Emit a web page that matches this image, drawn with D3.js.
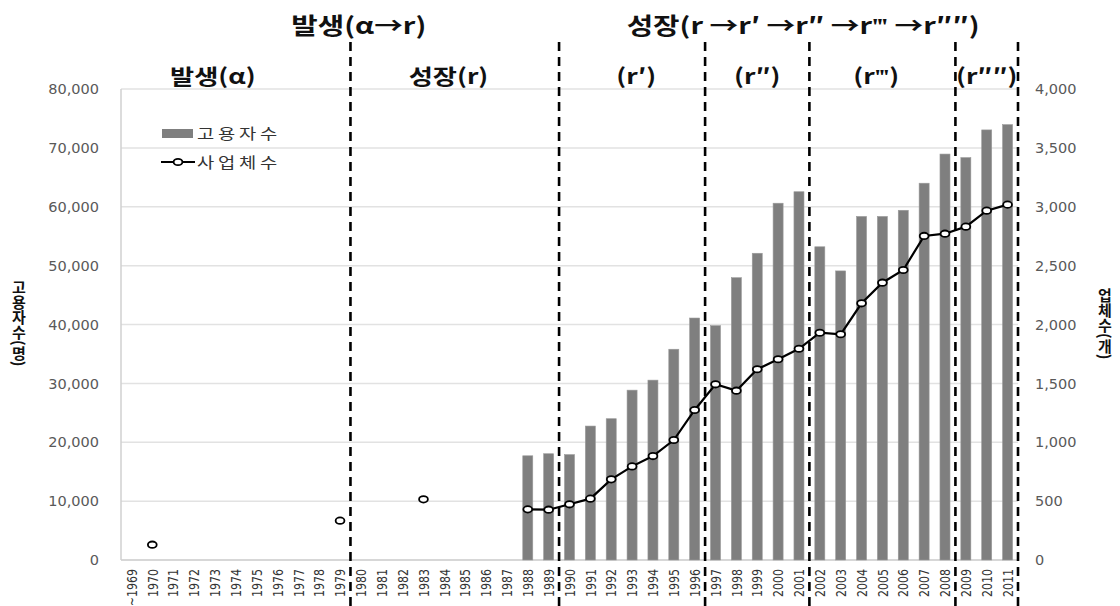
<!DOCTYPE html>
<html><head><meta charset="utf-8">
<script src="https://cdn.jsdelivr.net/npm/d3@7"></script>
<style>body{margin:0;background:#fff}svg{display:block}</style>
</head><body>
<svg id="c" width="1120" height="606"></svg>
<script>
const years=["~1969","1970","1971","1972","1973","1974","1975","1976","1977","1978","1979","1980","1981","1982","1983","1984","1985","1986","1987","1988","1989","1990","1991","1992","1993","1994","1995","1996","1997","1998","1999","2000","2001","2002","2003","2004","2005","2006","2007","2008","2009","2010","2011"];
const employees=[null,null,null,null,null,null,null,null,null,null,null,null,null,null,null,null,null,null,null,
  17700,18050,17900,22750,24000,28850,30550,35800,41100,39800,47950,52100,60600,62550,53200,49100,58350,58350,59400,64000,68950,68350,73050,73950];
const firms=[null,130,null,null,null,null,null,null,null,null,334,null,null,null,515,null,null,null,null,
  430,427,473,521,685,795,883,1019,1274,1492,1438,1620,1705,1794,1930,1917,2180,2355,2463,2752,2771,2831,2967,3018];
const leftTicks=[0,10000,20000,30000,40000,50000,60000,70000,80000];
const rightTicks=[0,500,1000,1500,2000,2500,3000,3500,4000];
const phaseBreaks=["1979","1989","1996","2001","2008","2011"];
const phaseLabels=[{text:"발생(α)",at:1972.9},{text:"성장(r)",at:1984.2},{text:"(r′)",at:1993.2},{text:"(r″)",at:1999.0},{text:"(r‴)",at:2004.7},{text:"(r″″)",at:2010.0}];
const stageTitles=[{text:"발생(α→r)",at:1979.9},{text:"성장(r →r′ →r″ →r‴ →r″″)",at:2001.2}];
const seriesNames=["고용자수","사업체수"];
const axisTitles=["고용자수(명)","업체수(개)"];

const svg=d3.select("#c");
svg.append("rect").attr("width",1120).attr("height",606).attr("fill","#fff");
const L=121,R=1018,T=89,B=560;
const SX=1.25; // horizontal stretch of text in the reference
const x=d3.scaleBand().domain(years).range([L,R]).paddingInner(0.52).paddingOuter(0.26);
const yL=d3.scaleLinear().domain([0,80000]).range([B,T]);
const yR=d3.scaleLinear().domain([0,4000]).range([B,T]);
const cx=d=>x(d)+x.bandwidth()/2;
const yearPos=v=>cx(years[1])+(v-1970)*x.step();

// grid
svg.append("g").selectAll("line").data(leftTicks).join("line")
  .attr("x1",L).attr("x2",R).attr("y1",d=>yL(d)).attr("y2",d=>yL(d))
  .attr("stroke","#e2e2e2").attr("stroke-width",1.5);
svg.append("line").attr("x1",L).attr("x2",L).attr("y1",T).attr("y2",B).attr("stroke","#d0d0d0").attr("stroke-width",1.5);
svg.append("line").attr("x1",L).attr("x2",R).attr("y1",B).attr("y2",B).attr("stroke","#d0d0d0").attr("stroke-width",1.5);

// axes
const gl=svg.append("g").attr("transform",`translate(${L},0)`)
  .call(d3.axisLeft(yL).tickValues(leftTicks).tickFormat(d3.format(",")).tickSize(0).tickPadding(22));
const gr=svg.append("g").attr("transform",`translate(${R},0)`)
  .call(d3.axisRight(yR).tickValues(rightTicks).tickFormat(d3.format(",")).tickSize(0).tickPadding(17));
[gl,gr].forEach(g=>{g.select(".domain").remove();
  g.selectAll("text").attr("font-family","DejaVu Sans").attr("font-size",14.5).attr("fill","#595959");});
const gx=svg.append("g").attr("transform",`translate(0,${B})`)
  .call(d3.axisBottom(x).tickSize(0));
gx.select(".domain").remove();
gx.selectAll("text").attr("transform",`rotate(-90) scale(1,${SX})`).attr("text-anchor","end")
  .attr("x",-9).attr("y",0).attr("dy","0.38em")
  .attr("font-family","DejaVu Sans").attr("font-size",11).attr("fill","#333");

// bars
const barData=years.map((y,i)=>({y,v:employees[i]})).filter(d=>d.v!=null);
svg.append("g").selectAll("rect").data(barData).join("rect")
  .attr("x",d=>x(d.y)).attr("width",x.bandwidth())
  .attr("y",d=>yL(d.v)).attr("height",d=>B-yL(d.v))
  .attr("fill","#7f7f7f").attr("stroke","#9a9a9a").attr("stroke-width",0.6);

// line
const lineData=years.map((y,i)=>({y,v:firms[i]}));
const line=d3.line().defined(d=>d.v!=null).x(d=>cx(d.y)).y(d=>yR(d.v));
svg.append("path").datum(lineData).attr("d",line).attr("fill","none").attr("stroke","#000").attr("stroke-width",2.2);
svg.append("g").selectAll("ellipse").data(lineData.filter(d=>d.v!=null)).join("ellipse")
  .attr("cx",d=>cx(d.y)).attr("cy",d=>yR(d.v)).attr("rx",4.4).attr("ry",3.2)
  .attr("fill","#fff").attr("stroke","#000").attr("stroke-width",1.8);

// phase dashed lines
svg.append("g").selectAll("line").data(phaseBreaks).join("line")
  .attr("x1",d=>cx(d)+x.step()/2).attr("x2",d=>cx(d)+x.step()/2)
  .attr("y1",42).attr("y2",606)
  .attr("stroke","#000").attr("stroke-width",2.6).attr("stroke-dasharray","9,6");

// titles
svg.append("g").selectAll("text").data(stageTitles).join("text")
  .attr("transform",d=>`translate(${yearPos(d.at)},34) scale(${SX},1)`).attr("text-anchor","middle")
  .attr("font-family","Noto Sans CJK KR").attr("font-weight","bold").attr("font-size",23).attr("fill","#111")
  .text(d=>d.text);
svg.append("g").selectAll("text").data(phaseLabels).join("text")
  .attr("transform",d=>`translate(${yearPos(d.at)},84) scale(${SX},1)`).attr("text-anchor","middle")
  .attr("font-family","Noto Sans CJK KR").attr("font-weight","bold").attr("font-size",21).attr("fill","#111")
  .text(d=>d.text);

// legend
const lg=svg.append("g");
lg.append("rect").attr("x",162).attr("y",129).attr("width",31).attr("height",9).attr("fill","#7f7f7f");
lg.append("line").attr("x1",161).attr("x2",195).attr("y1",162).attr("y2",162).attr("stroke","#000").attr("stroke-width",2.2);
lg.append("ellipse").attr("cx",178).attr("cy",162).attr("rx",4.4).attr("ry",3.2).attr("fill","#fff").attr("stroke","#000").attr("stroke-width",1.8);
lg.selectAll("text").data(seriesNames).join("text")
  .attr("transform",(d,i)=>`translate(197,${139+i*29}) scale(${SX},1)`)
  .attr("font-family","Noto Sans CJK KR").attr("font-size",15).attr("letter-spacing",3).attr("fill","#333")
  .text(d=>d);

// axis titles (vertical)
svg.append("text").attr("x",19).attr("y",280).attr("writing-mode","vertical-rl")
  .attr("font-family","Noto Sans CJK KR").attr("font-weight","bold").attr("font-size",15).attr("fill","#111")
  .text(axisTitles[0]);
svg.append("text").attr("x",1105).attr("y",288).attr("writing-mode","vertical-rl")
  .attr("font-family","Noto Sans CJK KR").attr("font-weight","bold").attr("font-size",15).attr("fill","#111")
  .text(axisTitles[1]);
</script>
</body></html>
